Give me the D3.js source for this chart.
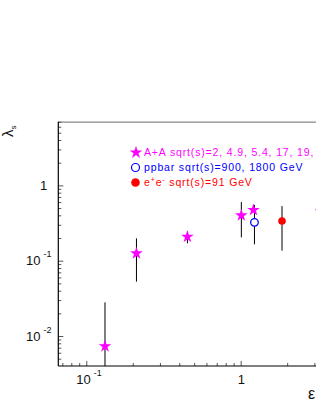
<!DOCTYPE html>
<html>
<head>
<meta charset="utf-8">
<script src="https://cdn.jsdelivr.net/npm/d3@7"></script>
<style>
  body { margin: 0; background: #fff; }
  svg { display: block; font-family: "Liberation Sans", Arial, sans-serif; }
</style>
</head>
<body>
<svg id="chart" width="316" height="409"></svg>
<script>
// A+A points (stars)
const aaX  = [0.1322, 0.2114, 0.452, 1.01, 1.21, 3.3];
const aaY  = [0.0073, 0.125, 0.208, 0.40, 0.47, 0.45];
const aaLo = [0.001, 0.0527, 0.170, 0.204, 0.47, 0.30];
const aaHi = [0.028, 0.198, 0.245, 0.60, 0.47, 0.60];

// ppbar points (open circles)
const ppX  = [1.228];
const ppY  = [0.323];
const ppLo = [0.165];
const ppHi = [0.55];

// e+e- points (filled circles)
const eeX  = [1.852];
const eeY  = [0.336];
const eeLo = [0.136];
const eeHi = [0.53];

const xMajor = [0.1, 1];
const yMajor = [0.01, 0.1, 1];
const xMinor = [0.07, 0.08, 0.09, 0.2, 0.3, 0.4, 0.5, 0.6, 0.7, 0.8, 0.9, 2, 3, 4, 5, 6, 7, 8, 9];
const yMinor = [0.005, 0.006, 0.007, 0.008, 0.009, 0.02, 0.03, 0.04, 0.05, 0.06, 0.07, 0.08, 0.09,
                0.2, 0.3, 0.4, 0.5, 0.6, 0.7, 0.8, 0.9, 2, 3, 4, 5, 6, 7];

const legendText = [
    {label: "A+A sqrt(s)=2, 4.9, 5.4, 17, 19, 130, 200 GeV", color: "#ff00ff", mark: "star"},
    {label: "ppbar sqrt(s)=900, 1800 GeV", color: "#0000ff", mark: "open"},
    {label: "e+e- sqrt(s)=91 GeV", color: "#ff0000", mark: "full"}
];

const svg = d3.select("#chart");

const x = d3.scaleLog().domain([0.0659, 10]).range([58.3, 395.1]);
const y = d3.scaleLog().domain([0.004, 7]).range([366, 121.7]);

const xLeft = x.range()[0], xRight = x.range()[1];
const yTop = y.range()[1], yBottom = y.range()[0];

// frame
svg.append("line")
    .attr("x1", xLeft).attr("x2", xRight)
    .attr("y1", yTop + 0.5).attr("y2", yTop + 0.5)
    .attr("stroke", "#888").attr("stroke-width", 1.3);

// axes: minor + major ticks pointing inward
function ticksX(vals, len) {
    svg.append("g")
        .attr("transform", `translate(0,${yBottom})`)
        .call(d3.axisBottom(x).tickValues(vals).tickSize(-len).tickFormat(""))
        .call(g => g.select(".domain").remove())
        .selectAll("line").attr("stroke", "#555");
}
function ticksY(vals, len) {
    svg.append("g")
        .attr("transform", `translate(${xLeft},0)`)
        .call(d3.axisLeft(y).tickValues(vals).tickSize(-len).tickFormat(""))
        .call(g => g.select(".domain").remove())
        .selectAll("line").attr("stroke", "#555");
}
ticksX(xMinor, 3);
ticksX(xMajor, 5);
ticksY(yMinor, 3);
ticksY(yMajor, 5);

svg.append("line")
    .attr("x1", xLeft).attr("x2", xRight)
    .attr("y1", yBottom).attr("y2", yBottom)
    .attr("stroke", "#000").attr("stroke-width", 1.2);
svg.append("line")
    .attr("x1", xLeft).attr("x2", xLeft)
    .attr("y1", yTop).attr("y2", yBottom)
    .attr("stroke", "#000").attr("stroke-width", 1.2);

// tick labels with superscripts
function powLabel(sel, v) {
    const e = Math.round(Math.log10(v));
    if (e === 0) {
        sel.text("1");
    } else {
        sel.append("tspan").text("10");
        sel.append("tspan").attr("font-size", 9).attr("dx", 3).attr("dy", -8).text(e);
    }
}

xMajor.forEach(v => {
    const e = Math.round(Math.log10(v));
    svg.append("text")
        .attr("x", e === 0 ? x(v) - 3 : x(v) - 10)
        .attr("y", 384)
        .attr("font-size", 13)
        .attr("fill", "#111")
        .call(powLabel, v);
});

yMajor.forEach(v => {
    const e = Math.round(Math.log10(v));
    svg.append("text")
        .attr("x", e === 0 ? 40 : 26)
        .attr("y", y(v) + 4.5)
        .attr("font-size", 13)
        .attr("fill", "#111")
        .call(powLabel, v);
});

// axis titles
svg.append("text")
    .attr("transform", "translate(13,137) rotate(-90)")
    .attr("font-size", 15)
    .attr("fill", "#111")
    .call(t => {
        t.append("tspan").text("λ");
        t.append("tspan").attr("font-size", 8).attr("dy", 3).text("s");
    });

svg.append("text")
    .attr("x", 308)
    .attr("y", 399)
    .attr("font-size", 16)
    .attr("fill", "#111")
    .text("ε");

// plot area
const plot = svg.append("g");
const star = d3.symbol().type(d3.symbolStar).size(50);

function errBars(xs, ys, lo, hi) {
    plot.selectAll(null)
        .data(xs)
        .enter()
        .append("line")
        .attr("x1", d => x(d)).attr("x2", d => x(d))
        .attr("y1", (d, i) => Math.min(y(lo[i]), yBottom))
        .attr("y2", (d, i) => y(hi[i]))
        .attr("stroke", "#000")
        .attr("stroke-width", 1);
}

errBars(aaX, aaY, aaLo, aaHi);
errBars(ppX, ppY, ppLo, ppHi);
errBars(eeX, eeY, eeLo, eeHi);

plot.selectAll(null)
    .data(aaX)
    .enter()
    .append("path")
    .attr("d", star)
    .attr("transform", (d, i) => `translate(${x(d)},${y(aaY[i])})`)
    .attr("fill", "#ff00ff");

plot.selectAll(null)
    .data(ppX)
    .enter()
    .append("circle")
    .attr("cx", d => x(d))
    .attr("cy", (d, i) => y(ppY[i]))
    .attr("r", 3.8)
    .attr("fill", "#fff")
    .attr("stroke", "#0000ff")
    .attr("stroke-width", 1.3);

plot.selectAll(null)
    .data(eeX)
    .enter()
    .append("circle")
    .attr("cx", d => x(d))
    .attr("cy", (d, i) => y(eeY[i]))
    .attr("r", 3.8)
    .attr("fill", "#ff0000");

// legend
const leg = svg.append("g");
legendText.forEach((d, i) => {
    const ly = 152.5 + i * 15;
    if (d.mark == "star") {
        leg.append("path").attr("d", star).attr("transform", `translate(136,${ly})`).attr("fill", d.color);
    } else if (d.mark == "open") {
        leg.append("circle").attr("cx", 135.5).attr("cy", ly).attr("r", 4)
            .attr("fill", "none").attr("stroke", d.color).attr("stroke-width", 1.2);
    } else {
        leg.append("circle").attr("cx", 135.5).attr("cy", ly).attr("r", 4.3).attr("fill", d.color);
    }
    const t = leg.append("text")
        .attr("x", 144)
        .attr("y", ly + 3.8)
        .attr("font-size", 10.5)
        .attr("letter-spacing", 0.85)
        .attr("fill", d.color);
    if (d.mark == "full") {
        t.append("tspan").text("e");
        t.append("tspan").attr("font-size", 7).attr("dy", -4).text("+");
        t.append("tspan").attr("dy", 4).text("e");
        t.append("tspan").attr("font-size", 7).attr("dy", -4).text("-");
        t.append("tspan").attr("dy", 4).text(" sqrt(s)=91 GeV");
    } else {
        t.text(d.label);
    }
});
</script>
</body>
</html>
